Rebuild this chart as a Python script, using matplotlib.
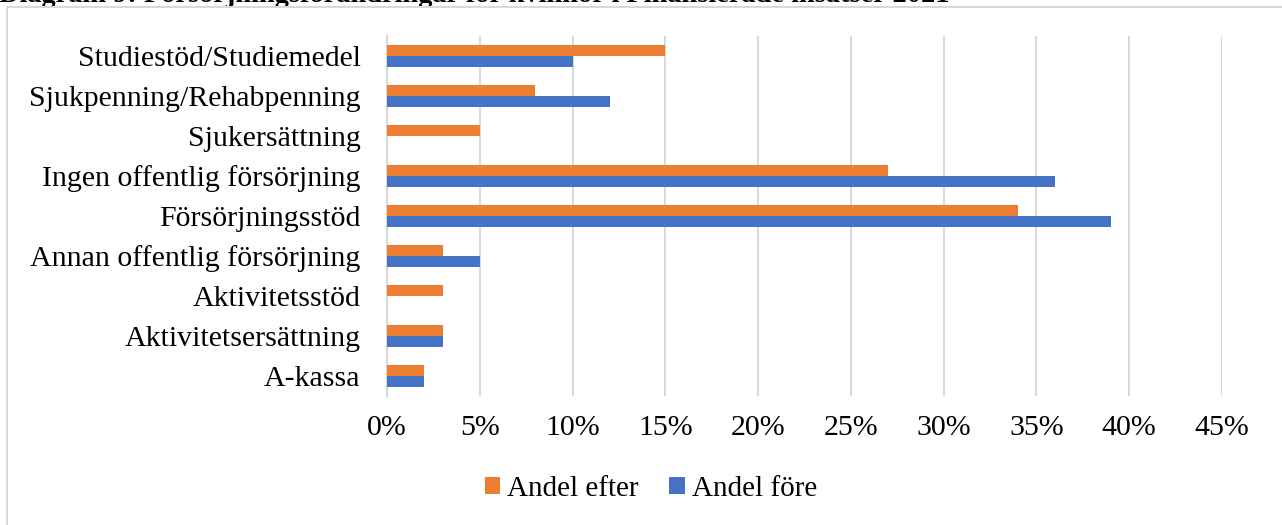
import numpy as np
import matplotlib
matplotlib.use('Agg')
import matplotlib.pyplot as plt
from matplotlib.patches import Rectangle
from matplotlib.ticker import PercentFormatter

categories = ['Studiestöd/Studiemedel', 'Sjukpenning/Rehabpenning', 'Sjukersättning',
              'Ingen offentlig försörjning', 'Försörjningsstöd',
              'Annan offentlig försörjning', 'Aktivitetsstöd',
              'Aktivitetsersättning', 'A-kassa']
andel_efter = [15, 8, 5, 27, 34, 3, 3, 3, 2]
andel_fore = [10, 12, 0, 36, 39, 5, 0, 3, 2]
x_ticks = [0, 5, 10, 15, 20, 25, 30, 35, 40, 45]

ORANGE = '#ED7D31'
BLUE = '#4472C4'
GRID = '#D9D9D9'

plt.rcParams['font.family'] = ['Liberation Serif', 'DejaVu Serif']

fig = plt.figure(figsize=(12.82, 5.25), dpi=100)
W, H = 1282, 525

# chart frame (only left and top edges visible in the picture)
fig.patches.append(Rectangle((6.5 / W, -0.1), 1.2, 1 - 7 / H + 0.1,
                             transform=fig.transFigure, fill=False,
                             edgecolor=GRID, lw=1.5, zorder=5))

# title sits above the crop, only its lower edge shows; scale it to ~953 px wide
title = fig.text(-1 / W, 1 - 2 / H,
                 'Diagram 9: Försörjningsförändringar för kvinnor i Finansierade insatser 2021',
                 fontsize=19, fontweight='bold', ha='left', va='baseline', zorder=1)
fig.canvas.draw()
tw = title.get_window_extent().width
title.set_fontsize(19 * 953 / tw)

ax = fig.add_axes([387 / W, 1 - 396 / H, (1222 - 387) / W, (396 - 36) / H])

y = np.arange(len(categories))
h = 0.275
ax.barh(y - h / 2, andel_efter, height=h, color=ORANGE, label='Andel efter', zorder=3)
ax.barh(y + h / 2, andel_fore, height=h, color=BLUE, label='Andel före', zorder=3)

ax.set_ylim(len(categories) - 0.5, -0.5)
ax.set_xlim(0, 45)
ax.set_xticks(x_ticks)
ax.xaxis.set_major_formatter(PercentFormatter(decimals=0))
ax.set_yticks(y)
ax.set_yticklabels(categories)

ax.grid(True, axis='x', color=GRID, lw=1.5, zorder=0)
for side in ['top', 'right', 'bottom']:
    ax.spines[side].set_visible(False)
ax.spines['left'].set_color(GRID)
ax.spines['left'].set_linewidth(1.5)
ax.tick_params(axis='both', length=0, labelsize=21.5, colors='black')
ax.tick_params(axis='y', pad=19)
ax.tick_params(axis='x', pad=14)

handles, labels = ax.get_legend_handles_labels()
fig.legend(handles, labels, loc='center', bbox_to_anchor=(651 / W, 1 - 489 / H),
           ncol=2, frameon=False, fontsize=21, handlelength=0.52, handleheight=0.52,
           handletextpad=0.25, columnspacing=1.05, borderaxespad=0, borderpad=0)

fig.savefig('out.png', dpi=100)
